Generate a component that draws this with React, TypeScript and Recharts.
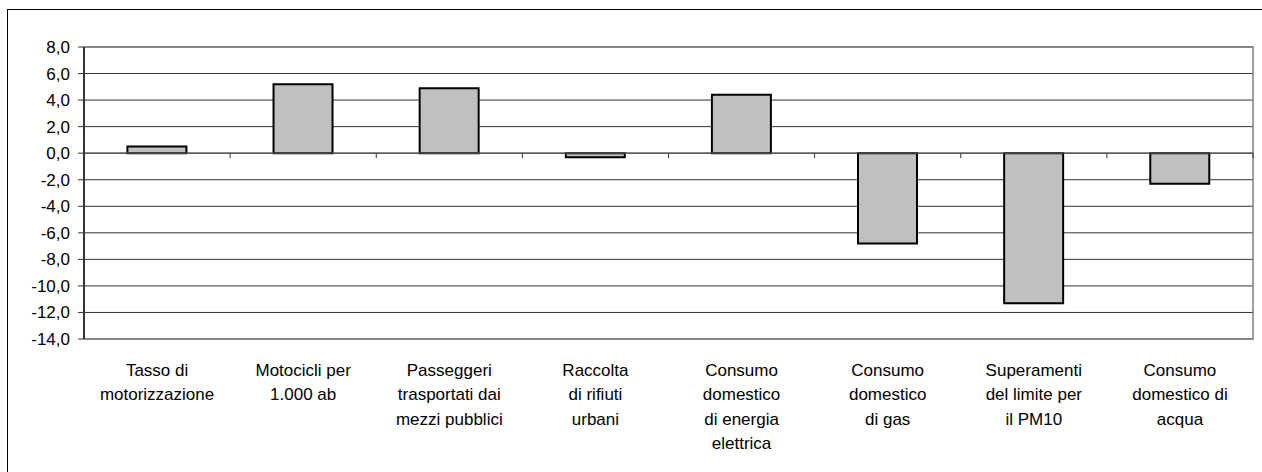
import React from 'react';
import { BarChart, Bar, XAxis, YAxis, CartesianGrid, ReferenceLine, ReferenceArea } from 'recharts';

// categorie (a capo come nel grafico originale)
const categories = [
  'Tasso di\nmotorizzazione',
  'Motocicli per\n1.000 ab',
  'Passeggeri\ntrasportati dai\nmezzi pubblici',
  'Raccolta\ndi rifiuti\nurbani',
  'Consumo\ndomestico\ndi energia\nelettrica',
  'Consumo\ndomestico\ndi gas',
  'Superamenti\ndel limite per\nil PM10',
  'Consumo\ndomestico di\nacqua',
];

const values = [0.5, 5.2, 4.9, -0.3, 4.4, -6.8, -11.3, -2.3];

const yTicks = [-14, -12, -10, -8, -6, -4, -2, 0, 2, 4, 6, 8];

const data = categories.map((name, i) => ({ name, value: values[i] }));

const FONT = '"Liberation Sans", Arial, sans-serif';

const formatTick = (v: number) => v.toFixed(1).replace('.', ',');

function CategoryTick({ x, y, payload }: any) {
  const lines = String(payload.value).split('\n');
  return (
    <text x={x} y={y} textAnchor="middle" fontSize={17} fontFamily={FONT} fill="#000">
      {lines.map((line, i) => (
        <tspan key={i} x={x} dy={i === 0 ? 37 : 24.4}>
          {line}
        </tspan>
      ))}
    </text>
  );
}

// linea dello zero con le tacche tra le categorie
function ZeroAxis(props: any) {
  const { x1, y1, x2 } = props;
  const step = (x2 - x1) / categories.length;
  return (
    <g>
      <line x1={x1} y1={y1} x2={x2} y2={y1} stroke="#555" strokeWidth={1.2} />
      {categories.map((_, i) => {
        const tx = x1 + step * (i + 1);
        return <line key={i} x1={tx} y1={y1} x2={tx} y2={y1 + 5} stroke="#333" strokeWidth={1} />;
      })}
    </g>
  );
}

export default function App() {
  return (
    <div style={{ position: 'absolute', left: 0, top: 0, width: 1262, height: 472, overflow: 'hidden', background: '#fff' }}>
      <div
        style={{
          position: 'absolute',
          left: 7,
          top: 9,
          width: 1300,
          height: 500,
          borderLeft: '1px solid #000',
          borderTop: '1px solid #000',
        }}
      />
      <div style={{ position: 'absolute', left: 0, top: 0 }}>
        <BarChart
          width={1262}
          height={472}
          data={data}
          margin={{ top: 47, right: 9, bottom: 0, left: 0 }}
          barCategoryGap="29.7%"
        >
          <CartesianGrid horizontal vertical={false} stroke="#333" strokeWidth={1} />
          <ReferenceArea y1={-14} y2={8} fill="none" stroke="#808080" strokeWidth={1.5} ifOverflow="visible" />
          <XAxis
            dataKey="name"
            interval={0}
            axisLine={false}
            tickLine={false}
            tickSize={0}
            tickMargin={0}
            height={133}
            tick={<CategoryTick />}
          />
          <YAxis
            domain={[-14, 8]}
            ticks={yTicks}
            interval={0}
            width={84}
            allowDataOverflow
            tickFormatter={formatTick}
            axisLine={{ stroke: '#333', strokeWidth: 2 }}
            tickLine={{ stroke: '#333' }}
            tickSize={6}
            tickMargin={8}
            tick={{ fontSize: 17, fontFamily: FONT, fill: '#000' }}
          />
          <Bar dataKey="value" fill="#c0c0c0" stroke="#000" strokeWidth={2} isAnimationActive={false} />
          <ReferenceLine y={0} ifOverflow="visible" shape={(p: any) => <ZeroAxis {...p} />} />
        </BarChart>
      </div>
    </div>
  );
}
